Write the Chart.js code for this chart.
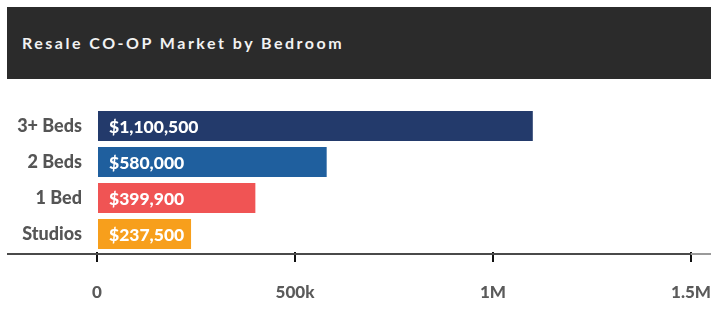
<!DOCTYPE html>
<html>
<head>
<meta charset="utf-8">
<script src="https://cdn.jsdelivr.net/npm/chart.js@4"></script>
<style>
  html, body { margin: 0; padding: 0; background: #fff; }
  #wrap { position: relative; width: 711px; height: 312px; overflow: hidden; }
  #title {
    position: absolute; left: 7px; top: 7px; width: 704px; height: 72px;
    background: #2b2b2b; color: #f2f2f2;
    font: bold 16px 'Lato', sans-serif; letter-spacing: 2.5px;
    line-height: 72px; padding-left: 15px; box-sizing: border-box;
  }
  canvas { position: absolute; left: 0; top: 0; }
</style>
</head>
<body>
<div id="wrap">
  <div id="title">Resale CO-OP Market by Bedroom</div>
  <canvas id="chart" width="711" height="312"></canvas>
</div>
<script>
  // ── DATA ──────────────────────────────────────────────────────────
  const CATEGORIES = ['3+ Beds', '2 Beds', '1 Bed', 'Studios'];
  const PRICES     = [1100500, 580000, 399900, 237500];
  const BAR_COLORS = ['#233a6b', '#1f5f9e', '#f05454', '#f79f1c'];
  const TICK_VALUES = [0, 500000, 1000000, 1500000];
  const TICK_LABELS = ['0', '500k', '1M', '1.5M'];

  const FONT = "'Lato', sans-serif";

  // value labels inside the bars
  const valueLabels = {
    id: 'valueLabels',
    afterDatasetsDraw(chart) {
      const { ctx } = chart;
      const meta = chart.getDatasetMeta(0);
      ctx.save();
      ctx.fillStyle = '#ffffff';
      ctx.font = '900 17.5px ' + FONT;
      ctx.textAlign = 'left';
      ctx.textBaseline = 'middle';
      meta.data.forEach((bar, i) => {
        ctx.fillText('$' + PRICES[i].toLocaleString('en-US'), bar.base + 11, bar.y + 1);
      });
      ctx.restore();
    }
  };

  // full-width baseline under the bars
  const baseline = {
    id: 'baseline',
    afterDraw(chart) {
      const { ctx, chartArea } = chart;
      const y = chartArea.bottom + 2;
      ctx.save();
      ctx.lineWidth = 2;
      ctx.strokeStyle = '#4a4a4a';
      ctx.beginPath();
      ctx.moveTo(7, y);
      ctx.lineTo(chartArea.right, y);
      ctx.stroke();
      ctx.strokeStyle = '#9a9a9a';
      ctx.beginPath();
      ctx.moveTo(chartArea.right, y);
      ctx.lineTo(chart.width, y);
      ctx.stroke();
      ctx.restore();
    }
  };

  new Chart(document.getElementById('chart'), {
    type: 'bar',
    data: {
      labels: CATEGORIES,
      datasets: [{
        data: PRICES,
        backgroundColor: BAR_COLORS,
        borderWidth: 0,
        barPercentage: 30 / 36,
        categoryPercentage: 1
      }]
    },
    options: {
      indexAxis: 'y',
      responsive: false,
      animation: false,
      layout: { padding: { top: 108, left: 7, right: 0, bottom: 0 } },
      plugins: { legend: { display: false }, tooltip: { enabled: false } },
      scales: {
        x: {
          min: 0,
          max: 1500000,
          afterBuildTicks(scale) {
            scale.ticks = TICK_VALUES.map(v => ({ value: v }));
          },
          afterFit(scale) { scale.height = 60; scale.paddingRight = 20; },
          grid: {
            drawOnChartArea: false,
            drawTicks: true,
            tickLength: 10,
            offset: false,
            color: '#111',
            lineWidth: 2
          },
          border: { display: false },
          ticks: {
            padding: 20,
            color: '#5a5a5a',
            font: { family: FONT, size: 17, weight: '900' },
            callback: (v, i) => TICK_LABELS[i]
          }
        },
        y: {
          afterFit(scale) { scale.width = 90; },
          grid: { display: false, drawTicks: false },
          border: { display: false },
          ticks: {
            padding: 15,
            color: '#555',
            font: { family: FONT, size: 18, weight: '900' }
          }
        }
      }
    },
    plugins: [valueLabels, baseline]
  });
</script>
</body>
</html>
